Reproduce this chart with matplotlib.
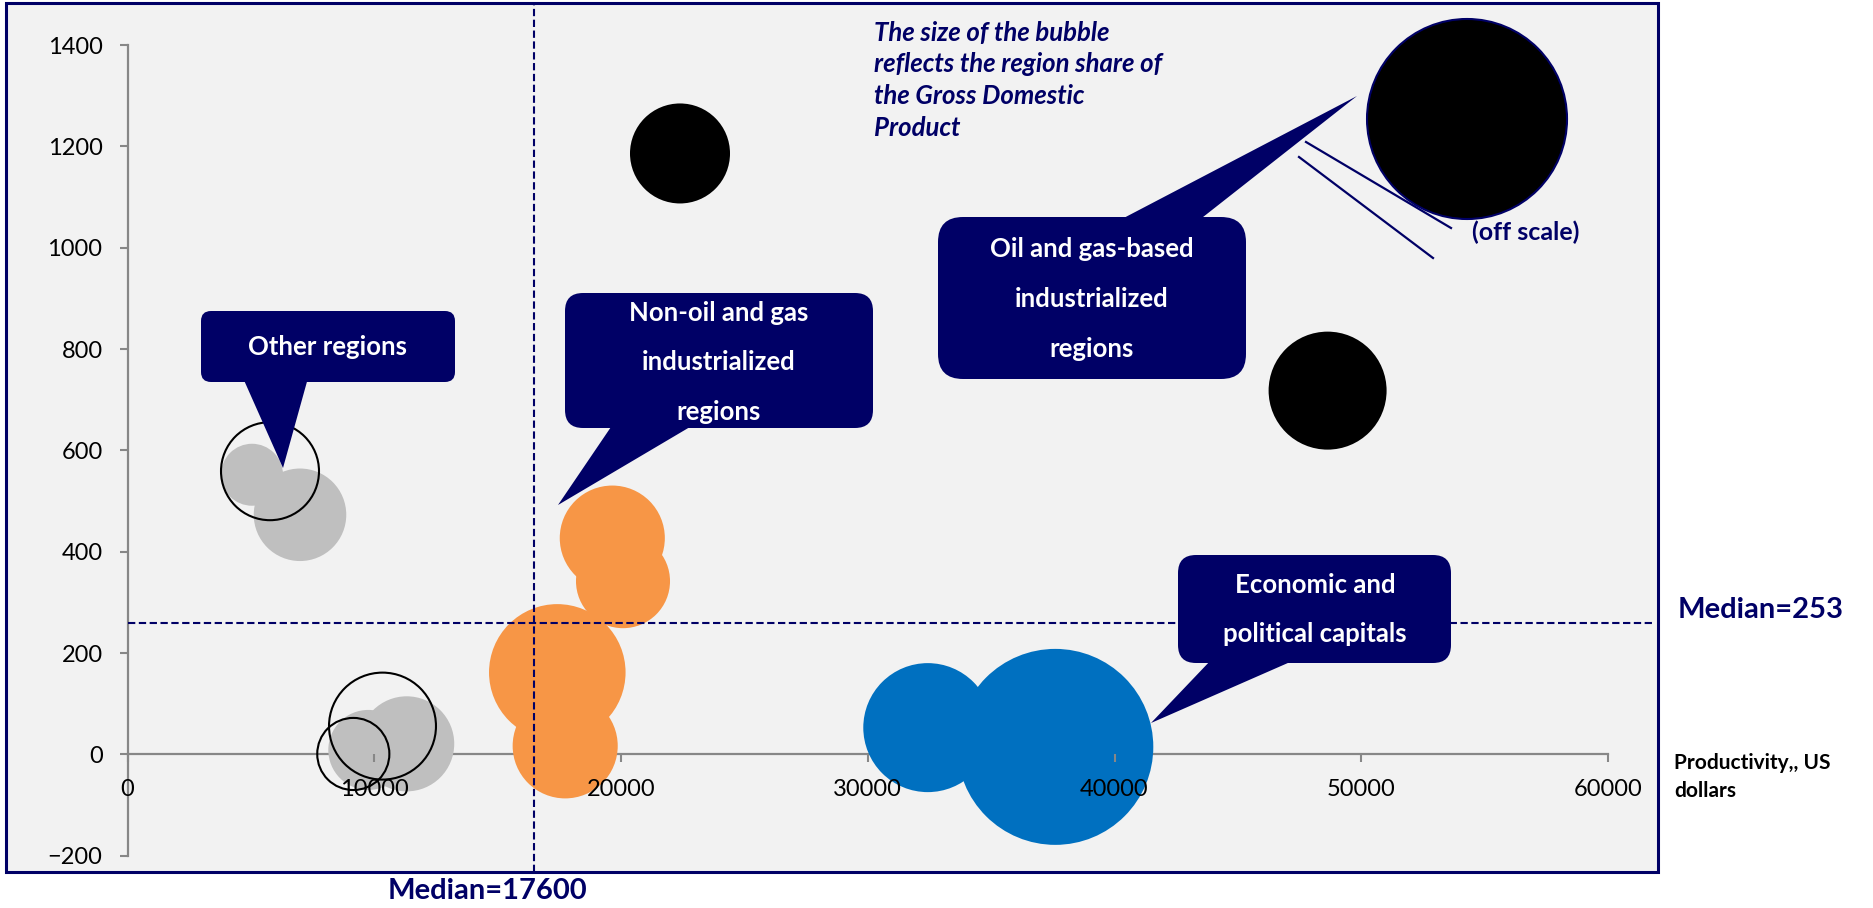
import matplotlib
matplotlib.use("Agg")
import matplotlib.pyplot as plt
from matplotlib.patches import FancyBboxPatch, Polygon, Rectangle
from matplotlib.lines import Line2D
from matplotlib.transforms import IdentityTransform

plt.rcParams['font.family'] = ['Lato', 'DejaVu Sans']

# Bubble data (x: productivity, y: second indicator,
# size: relative share of GDP)
other_x = [5046, 6991, 11315, 9759]
other_y = [552, 473, 21, 9]
other_size = [9.6, 21.4, 22.6, 16.0]

outline_x = [5775, 10334, 9151]
outline_y = [559, 56, 1]
outline_size = [24.0, 28.6, 13.0]

nonoil_x = [19647, 20081, 17418, 17738]
nonoil_y = [427, 342, 162, 17]
nonoil_size = [27.6, 22.1, 46.6, 27.6]

capital_x = [32433, 37601]
capital_y = [53, 15]
capital_size = [41.6, 96.0]

oil_x = [22391, 48636, 54286]
oil_y = [1186, 718, 1254]
oil_size = [25.0, 34.8, 100.0]

median_x_line = 16474
median_y_line = 260
median_x_label = "Median=17600"
median_y_label = "Median=253"

x_ticks = [0, 10000, 20000, 30000, 40000, 50000, 60000]
y_ticks = [-200, 0, 200, 400, 600, 800, 1000, 1200, 1400]

NAVY = '#000066'
AXGRAY = '#878787'
W, H = 1873, 908
SIZE_TO_AREA = 207.4
XMIN, XMAX = -4924, 62026
YMIN, YMAX = -231.9, 1482.9

fig = plt.figure(figsize=(W / 100, H / 100), dpi=100)
px = IdentityTransform()

ax = fig.add_axes([6 / W, 1 - 872 / H, 1652 / W, 869 / H])
ax.set_facecolor('#f2f2f2')
ax.set_xlim(XMIN, XMAX)
ax.set_ylim(YMIN, YMAX)

for side in ['top', 'right']:
    ax.spines[side].set_visible(False)
ax.spines['left'].set_position(('data', 0))
ax.spines['bottom'].set_position(('data', 0))
ax.spines['left'].set_bounds(-200, 1400)
ax.spines['bottom'].set_bounds(0, 60000)
for side in ['left', 'bottom']:
    ax.spines[side].set_color(AXGRAY)
    ax.spines[side].set_linewidth(1.6)
    ax.spines[side].set_zorder(1)
ax.set_xticks(x_ticks)
ax.set_yticks(y_ticks)
ax.tick_params(axis='both', direction='out', length=6, width=1.5,
               color=AXGRAY, labelsize=17, labelcolor='black')
ax.tick_params(axis='x', pad=12)
ax.tick_params(axis='y', pad=12)
# tick labels sit on top of the bubbles, as in the original
ax.xaxis.set_zorder(3.5)

# bubbles
ax.scatter(other_x, other_y, s=[v * SIZE_TO_AREA for v in other_size],
           color='#bfbfbf', linewidths=0, zorder=2)
ax.scatter(outline_x, outline_y, s=[v * SIZE_TO_AREA for v in outline_size],
           facecolors='none', edgecolors='black', linewidths=1.5, zorder=3)
ax.scatter(nonoil_x, nonoil_y, s=[v * SIZE_TO_AREA for v in nonoil_size],
           color='#f79646', linewidths=0, zorder=2)
ax.scatter(capital_x, capital_y, s=[v * SIZE_TO_AREA for v in capital_size],
           color='#0070c0', linewidths=0, zorder=2)
ax.scatter(oil_x, oil_y, s=[v * SIZE_TO_AREA for v in oil_size],
           color='black', edgecolors=['none', 'none', NAVY], linewidths=1.5,
           zorder=2)

# median lines
ax.plot([median_x_line, median_x_line], [YMIN, YMAX], color=NAVY,
        lw=1.5, ls=(0, (3.5, 1.7)), zorder=4)
ax.plot([0, 61780], [median_y_line, median_y_line], color=NAVY,
        lw=1.5, ls=(0, (3.5, 1.7)), zorder=4)

# outer frame
fig.patches.append(Rectangle((6, H - 872), 1652, 869, transform=px,
                             fill=False, edgecolor=NAVY, lw=2.2, zorder=5))


def callout(box, base, tip, lines, cx, baselines, rounding):
    x0, y0, x1, y1 = box
    fig.patches.append(FancyBboxPatch(
        (x0, H - y1), x1 - x0, y1 - y0, transform=px,
        boxstyle=f"round,pad=0,rounding_size={rounding}",
        facecolor=NAVY, edgecolor='none', zorder=6))
    pts = [(base[0][0], H - base[0][1]), (base[1][0], H - base[1][1]),
           (tip[0], H - tip[1])]
    fig.patches.append(Polygon(pts, closed=True, transform=px,
                               facecolor=NAVY, edgecolor='none', zorder=6))
    for line, yb in zip(lines, baselines):
        fig.text(cx, H - yb, line, transform=px, ha='center', va='baseline',
                 color='white', fontsize=18.5, fontweight='bold', zorder=7)


callout((201, 311, 455, 382), [(243, 378), (308, 378)], (283, 468),
        ["Other regions"], 328, [355], 10)
callout((565, 293, 873, 428), [(613, 424), (695, 424)], (558, 505),
        ["Non-oil and gas", "industrialized", "regions"], 719,
        [320.7, 370, 419.5], 18)
callout((938, 217, 1246, 379), [(1118, 221), (1198, 221)], (1357, 96),
        ["Oil and gas-based", "industrialized", "regions"], 1092,
        [256.7, 307.3, 356.7], 25)
callout((1178, 555, 1451, 663), [(1212, 659), (1297, 659)], (1151, 723),
        ["Economic and", "political capitals"], 1315, [593.3, 641.7], 18)

# off scale marker lines
for (xa, ya), (xb, yb) in [((1306, 142), (1451, 228)),
                           ((1299, 157), (1433, 258))]:
    fig.lines.append(Line2D([xa, xb], [H - ya, H - yb], transform=px,
                            color=NAVY, lw=1.6, zorder=6))
fig.text(1472, H - 240, "(off scale)", transform=px, color=NAVY,
         fontsize=18, fontweight='bold', va='baseline')

# notes
note = ["The size of the bubble", "reflects the region share of",
        "the Gross Domestic", "Product"]
for line, yb in zip(note, [40.7, 72, 104, 136]):
    fig.text(874, H - yb, line, transform=px, color=NAVY, fontsize=18.5,
             fontweight='bold', fontstyle='italic', va='baseline')

fig.text(1678, H - 618, median_y_label, transform=px, color=NAVY,
         fontsize=21, fontweight='bold', va='baseline')
fig.text(388, H - 899, median_x_label, transform=px, color=NAVY,
         fontsize=21, fontweight='bold', va='baseline')
fig.text(1674, H - 769, "Productivity,, US", transform=px, color='black',
         fontsize=15, fontweight='bold', va='baseline')
fig.text(1674, H - 797, "dollars", transform=px, color='black',
         fontsize=15, fontweight='bold', va='baseline')

fig.savefig("out.png", dpi=100, facecolor='white')
